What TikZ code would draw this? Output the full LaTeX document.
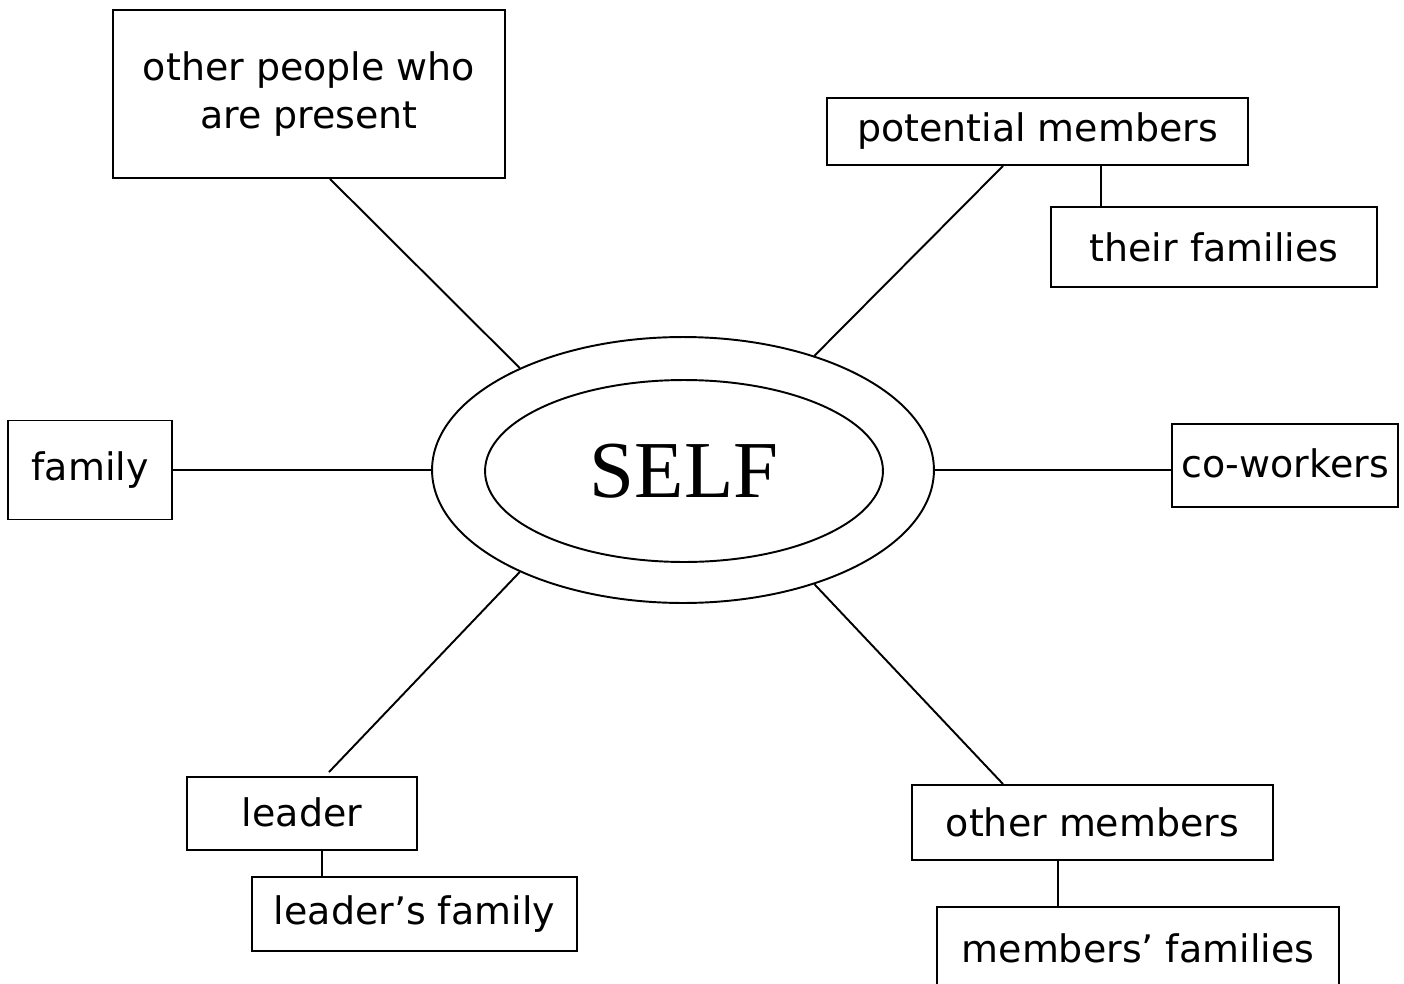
\documentclass[tikz,border=0pt]{standalone}
\usepackage{fontspec}
\setmainfont{DejaVu Sans}
\newfontfamily\selffont{Liberation Serif}
\usetikzlibrary{shapes.geometric,calc}
\begin{document}
\begin{tikzpicture}[x=0.02cm,y=-0.02cm,
  box/.style={draw,line width=1.1pt,rectangle,inner sep=0pt,align=center,
    font=\fontsize{21.6}{27.3}\selectfont},
  link/.style={line width=1.1pt},
  ring/.style={draw,line width=1.1pt,ellipse,inner sep=0pt}]
\useasboundingbox (0,0) rectangle (1404,984);
\clip (0,0) rectangle (1404,984);
% centre
\node[ring,minimum width=10.04cm,minimum height=5.32cm] (self) at (683,470) {};
\node[ring,minimum width=7.96cm,minimum height=3.64cm,font=\selffont\fontsize{46}{52}\selectfont] (selfin) at (684,471) {SELF};
% boxes
\node[box,minimum width=7.84cm,minimum height=3.36cm] (other) at (309,94) {other people who\\are present};
\node[box,minimum width=8.42cm,minimum height=1.34cm] (potential) at (1037.5,131.5) {potential members};
\node[box,minimum width=6.52cm,minimum height=1.60cm] (their) at (1214,247) {their families};
\node[box,minimum width=3.28cm,minimum height=1.98cm] (family) at (90,470) {family};
\node[box,minimum width=4.52cm,minimum height=1.66cm] (cow) at (1285,465.5) {\raisebox{3pt}{co-workers}};
\node[box,minimum width=4.60cm,minimum height=1.46cm] (leader) at (302,813.5) {\raisebox{2pt}{leader}};
\node[box,minimum width=6.50cm,minimum height=1.48cm] (leaderfam) at (414.5,914) {leader’s family};
\node[box,minimum width=7.22cm,minimum height=1.50cm] (othermem) at (1092.5,822.5) {other members};
\node[box,minimum width=8.04cm,minimum height=1.66cm] (memfam) at (1138,948.5) {members’ families};
% connectors
\draw[link] ($(other.south)+(21,0)$) -- (self.148);
\draw[link] ($(potential.south)+(-34.5,0)$) -- (self.41);
\draw[link] (family.east) -- (self.west);
\draw[link] (self.east) -- (self.east -| cow.west);
\draw[link] ($(leader.north)+(27,-4)$) -- (self.212);
\draw[link] ($(othermem.north)+(-89.5,0)$) -- (self.319);
\draw[link] (potential.south -| 1101,0) -- (their.north -| 1101,0);
\draw[link] (leader.south -| 322,0) -- (leaderfam.north -| 322,0);
\draw[link] (othermem.south -| 1058,0) -- (memfam.north -| 1058,0);
\end{tikzpicture}
\end{document}
